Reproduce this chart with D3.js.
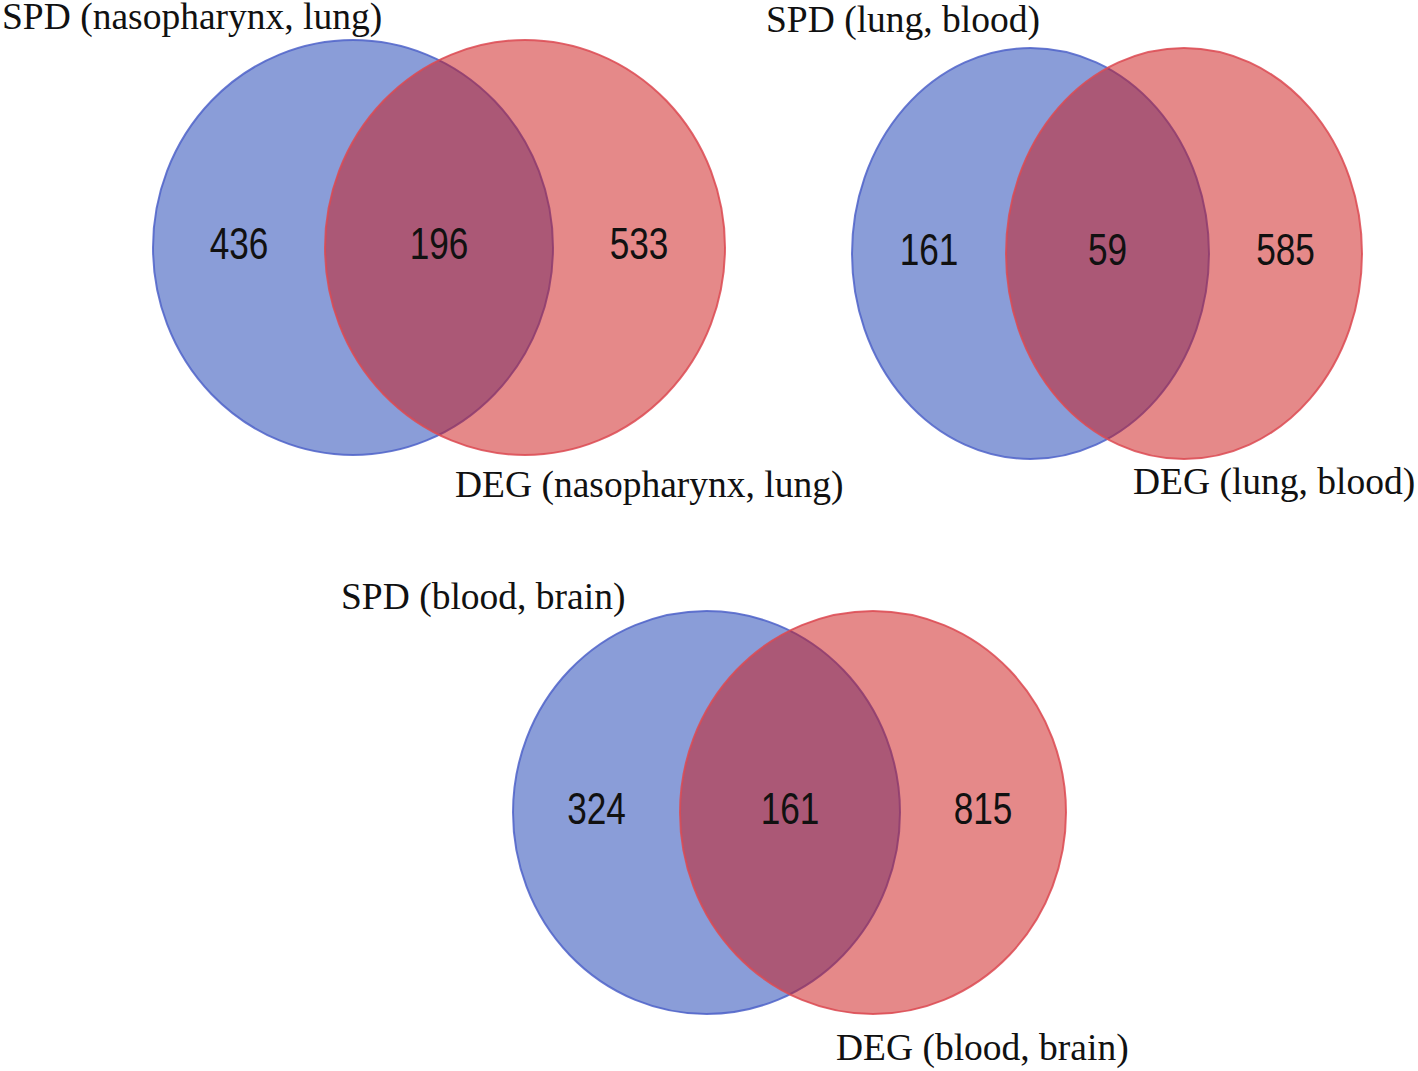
<!DOCTYPE html>
<html><head><meta charset="utf-8">
<script src="https://cdn.jsdelivr.net/npm/d3@7"></script>
<style>html,body{margin:0;padding:0;background:#fff;}svg{display:block;}</style>
</head><body>
<svg id="chart" width="1418" height="1071"></svg>
<script>
// ---- data ----
const tissuePairs = ["nasopharynx, lung", "lung, blood", "blood, brain"];
const setNames = ["SPD", "DEG"];
const spdOnly = [436, 161, 324];
const overlap = [196, 59, 161];
const degOnly = [533, 585, 815];

// ---- layout (pixel geometry per panel) ----
const panels = [
  {bx:353, rx1:200, cx2:525, rx2:200, cy:247.5, ry:207.5, t1:[2,29], t2:[455,497]},
  {bx:1030.5, rx1:178.5, cx2:1184, rx2:178, cy:253.5, ry:205.5, t1:[766,32], t2:[1133,494]},
  {bx:706.5, rx1:193.5, cx2:873, rx2:193, cy:812.5, ry:201.5, t1:[341,609], t2:[836,1060]}
];

const svg = d3.select("#chart");
const blueFill = "rgb(21,59,177)", redFill = "rgb(203,19,19)";
const blueStroke = "#4f63c9", redStroke = "#dc4a52";

panels.forEach((p, i) => {
  const g = svg.append("g");
  const ellipses = [
    {cx:p.bx, rx:p.rx1, fill:blueFill, stroke:blueStroke},
    {cx:p.cx2, rx:p.rx2, fill:redFill, stroke:redStroke}
  ];
  g.selectAll("ellipse").data(ellipses).join("ellipse")
    .attr("cx", d => d.cx).attr("cy", p.cy)
    .attr("rx", d => d.rx).attr("ry", p.ry)
    .attr("fill", d => d.fill).attr("fill-opacity", 0.5)
    .attr("stroke", d => d.stroke).attr("stroke-width", 2).attr("stroke-opacity", 0.85);

  const bl = p.bx - p.rx1, br = p.bx + p.rx1, rl = p.cx2 - p.rx2, rr = p.cx2 + p.rx2;
  const regions = ["spd", "both", "deg"];
  const x = d3.scaleOrdinal().domain(regions).range([(bl+rl)/2, (rl+br)/2, (br+rr)/2]);
  const labels = [
    {k:"spd", v:spdOnly[i]}, {k:"both", v:overlap[i]}, {k:"deg", v:degOnly[i]}
  ];
  g.selectAll("text.num").data(labels).join("text")
    .attr("class","num")
    .attr("transform", d => `translate(${x(d.k)},${p.cy + 11}) scale(0.8,1)`)
    .attr("text-anchor","middle")
    .attr("font-family","'Liberation Sans', Arial, sans-serif")
    .attr("font-size", 44)
    .attr("fill","#111")
    .text(d => d.v);

  g.append("text").attr("x", p.t1[0]).attr("y", p.t1[1])
    .attr("font-family","'Liberation Serif', 'Times New Roman', serif")
    .attr("font-size", 37.5).attr("fill","#111")
    .text(`${setNames[0]} (${tissuePairs[i]})`);
  g.append("text").attr("x", p.t2[0]).attr("y", p.t2[1])
    .attr("font-family","'Liberation Serif', 'Times New Roman', serif")
    .attr("font-size", 37.5).attr("fill","#111")
    .text(`${setNames[1]} (${tissuePairs[i]})`);
});
</script>
</body></html>
